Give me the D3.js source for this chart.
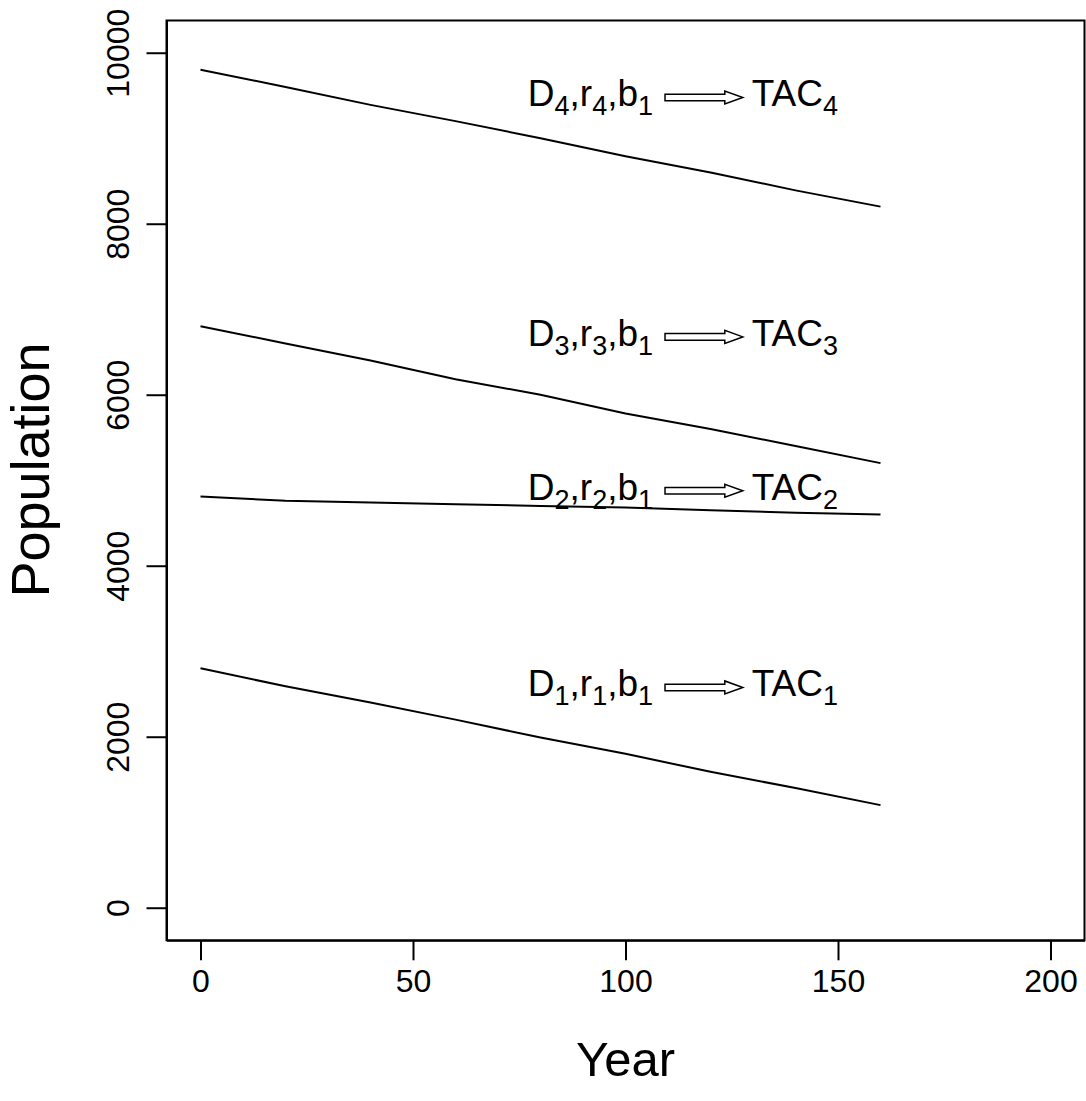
<!DOCTYPE html>
<html>
<head>
<meta charset="utf-8">
<script src="https://cdn.jsdelivr.net/npm/d3@7"></script>
<style>
  body { margin: 0; background: #fff; }
  text { font-family: "Liberation Sans", Arial, Helvetica, sans-serif; fill: #000; }
</style>
</head>
<body>
<div id="plot-area"></div>
<script>
// data
const years = [0, 20, 40, 60, 80, 100, 120, 140, 160];
const pop1 = [2800, 2590, 2400, 2200, 1990, 1800, 1590, 1400, 1200];
const pop2 = [4810, 4760, 4740, 4720, 4700, 4680, 4650, 4620, 4600];
const pop3 = [6800, 6600, 6400, 6180, 6000, 5780, 5600, 5400, 5200];
const pop4 = [9800, 9600, 9390, 9200, 9000, 8790, 8600, 8390, 8200];
const series = [pop1, pop2, pop3, pop4];

const labelIdx = ["1", "2", "3", "4"];
const labelY = [2600, 4900, 6700, 9500];
const labelX = 77;       // where "D.." starts
const arrowX = [109.3, 127.6];
const tacX = 129.7;

const xTicks = [0, 50, 100, 150, 200];
const yTicks = [0, 2000, 4000, 6000, 8000, 10000];

const W = 1086;
const H = 1101;

const svg = d3
  .select("#plot-area")
  .append("svg")
  .attr("width", W)
  .attr("height", H);

const x = d3.scaleLinear().domain([-8, 208]).range([166.5, 1084.5]);
const y = d3.scaleLinear().domain([-381, 10377]).range([940.3, 20.5]);

// axes
const xAxis = d3.axisBottom(x).tickValues(xTicks).tickSize(20).tickSizeOuter(0);
const yAxis = d3
  .axisLeft(y)
  .tickValues(yTicks)
  .tickFormat(d3.format("d"))
  .tickSize(20)
  .tickSizeOuter(0);

const gx = svg.append("g").attr("transform", `translate(0, ${y.range()[0]})`).call(xAxis);
const gy = svg.append("g").attr("transform", `translate(${x.range()[0]}, 0)`).call(yAxis);

[gx, gy].forEach((g) => {
  g.selectAll("path, line").attr("stroke", "#000").attr("stroke-width", 2);
  g.selectAll("text").attr("font-size", 32).attr("fill", "#000");
});
gx.selectAll("text").attr("y", 52).attr("dy", 0);
gy.selectAll("text")
  .attr("x", 0)
  .attr("dy", 0)
  .attr("text-anchor", "middle")
  .attr("transform", "translate(-38,0) rotate(-90)");

// box
svg
  .append("rect")
  .attr("x", x.range()[0])
  .attr("y", y.range()[1])
  .attr("width", x.range()[1] - x.range()[0])
  .attr("height", y.range()[0] - y.range()[1])
  .attr("fill", "none")
  .attr("stroke", "#000")
  .attr("stroke-width", 2);

// axis titles
svg
  .append("text")
  .attr("x", x(100))
  .attr("y", 1076)
  .attr("text-anchor", "middle")
  .attr("font-size", 49)
  .text("Year");
svg
  .append("text")
  .attr("transform", `translate(49, 470) rotate(-90)`)
  .attr("text-anchor", "middle")
  .attr("font-size", 54)
  .text("Population");

// lines
const line = d3
  .line()
  .x((d, i) => x(years[i]))
  .y((d) => y(d));

svg
  .selectAll(".line")
  .data(series)
  .enter()
  .append("path")
  .attr("class", "line")
  .attr("d", line)
  .attr("fill", "none")
  .attr("stroke", "#000")
  .attr("stroke-width", 2);

// labels  D_i,r_i,b_1 => TAC_i
const fs = 37;
const sub = 27;
const subDrop = 9;
labelIdx.forEach((k, i) => {
  const base = y(labelY[i]) + 11;
  const t = svg
    .append("text")
    .attr("x", x(labelX))
    .attr("y", base)
    .attr("font-size", fs);
  const parts = [["D", k], [",r", k], [",b", "1"]];
  parts.forEach(([main, s]) => {
    t.append("tspan").attr("y", base).text(main);
    t.append("tspan").attr("font-size", sub).attr("y", base + subDrop).text(s);
  });

  const t2 = svg
    .append("text")
    .attr("x", x(tacX))
    .attr("y", base)
    .attr("font-size", fs);
  t2.append("tspan").attr("y", base).text("TAC");
  t2.append("tspan").attr("font-size", sub).attr("y", base + subDrop).text(k);

  // hollow arrow
  const cy = y(labelY[i]) + 2;
  const x0 = x(arrowX[0]);
  const x1 = x(arrowX[1]);
  const xh = x1 - 18;
  const p = d3.path();
  p.moveTo(x0, cy - 3.3);
  p.lineTo(xh, cy - 3.3);
  p.lineTo(xh, cy - 6.5);
  p.lineTo(x1, cy);
  p.lineTo(xh, cy + 6.5);
  p.lineTo(xh, cy + 3.3);
  p.lineTo(x0, cy + 3.3);
  p.closePath();
  svg
    .append("path")
    .attr("d", p.toString())
    .attr("fill", "#fff")
    .attr("stroke", "#000")
    .attr("stroke-width", 1.5);
});
</script>
</body>
</html>
